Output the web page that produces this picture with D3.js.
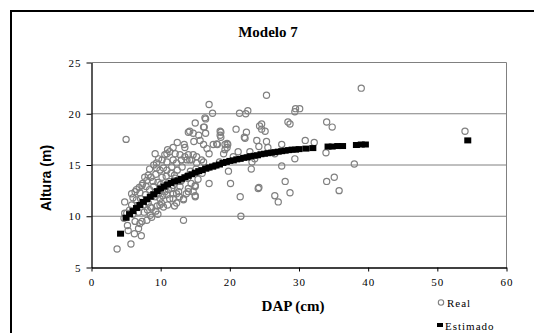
<!DOCTYPE html>
<html>
<head>
<meta charset="utf-8">
<script src="https://cdn.jsdelivr.net/npm/d3@7"></script>
<style>
  body { margin: 0; background: #fff; }
  svg { display: block; }
  .tick text { font-family: "Liberation Serif", "Times New Roman", serif; font-size: 11px; letter-spacing: 1px; fill: #000; }
</style>
</head>
<body>
<svg id="chart" width="534" height="333"></svg>
<script>
// Real (observed) trees
const realDap = [
  3.7, 5.7, 7.2, 6.2, 5.3, 5.2, 4.7, 5.1, 4.8, 5.8, 6.8, 7.3, 8.0, 8.5, 8.7, 6.5, 7.3, 8.0, 8.2, 8.9,
  9.4, 9.2, 10.6, 10.9, 10.4, 9.9, 11.3, 11.8, 9.2, 9.9, 10.1, 10.6, 11.3, 11.6, 7.5, 8.2, 6.3, 6.8, 8.7, 7.0,
  9.9, 10.9, 12.3, 13.3, 15.0, 15.0, 14.0, 17.0, 20.1, 21.5, 21.6, 13.3, 4.8, 8.5, 9.7, 12.8, 11.8, 5.0, 9.7, 10.9,
  11.8, 12.1, 13.5, 14.0, 14.7, 15.0, 16.2, 16.4, 17.0, 17.5, 18.6, 18.6, 21.4, 20.9, 15.7, 16.2, 16.7, 17.6, 18.1, 19.3,
  19.6, 19.6, 19.3, 13.5, 13.8, 14.7, 14.5, 15.2, 15.9, 15.2, 12.3, 11.6, 10.9, 9.4, 7.4, 6.3, 5.8, 13.9, 12.8, 11.8,
  11.1, 12.6, 14.0, 15.0, 14.2, 18.7, 22.6, 22.4, 22.2, 24.3, 18.2, 14.0, 14.2, 16.2, 19.1, 22.7, 23.2, 19.8, 24.1, 12.1,
  13.8, 15.0, 14.7, 12.3, 11.8, 13.3, 25.3, 39.0, 29.5, 30.1, 29.4, 24.6, 24.6, 25.1, 28.4, 28.7, 34.0, 34.8, 23.9, 25.3,
  24.2, 25.5, 27.5, 30.9, 32.2, 33.9, 26.5, 23.6, 27.5, 29.4, 38.0, 24.2, 28.0, 26.5, 27.0, 28.7, 34.0, 35.1, 35.8, 54.0,
  16.5, 16.3, 16.5, 22.1, 22.3, 23.1, 19.7, 22.9, 18.7, 17.0,
  6.0, 6.6, 7.1, 7.8, 8.4, 9.0, 9.6, 10.2, 10.8, 11.5, 12.4, 13.1, 7.6, 8.1, 9.3, 9.6, 10.4, 11.0, 12.0, 12.7,
  13.7, 14.4, 15.4, 16.0, 16.8, 17.8, 18.5, 20.5, 21.2, 6.5, 7.0, 7.9, 8.6, 9.3, 10.0, 10.7, 12.0, 13.0, 14.3, 15.1,
  8.8, 9.5, 10.3, 11.2, 5.5, 6.0, 6.9, 7.7, 8.4, 9.0, 10.2, 11.0, 12.8, 13.0, 14.8, 15.5, 13.4, 12.4
];
const realAltura = [
  6.8, 7.3, 8.1, 8.3, 8.6, 9.1, 9.8, 10.3, 11.4, 11.1, 10.4, 9.5, 9.6, 10.1, 10.8, 12.6, 13.0, 13.5, 14.0, 13.4,
  15.2, 16.1, 16.0, 15.3, 14.7, 14.5, 16.3, 15.5, 11.9, 11.7, 11.3, 12.4, 11.7, 12.7, 11.1, 11.3, 9.5, 8.8, 9.9, 9.3,
  11.1, 12.1, 11.3, 11.6, 11.9, 12.9, 12.4, 13.2, 13.2, 11.9, 10.0, 9.6, 10.3, 10.9, 12.2, 12.9, 12.2, 17.5, 15.6, 16.1,
  16.7, 16.1, 16.7, 18.2, 18.1, 19.1, 18.7, 19.6, 20.9, 20.05, 18.3, 17.9, 20.05, 18.5, 17.4, 17.0, 16.6, 17.0, 17.05, 17.0,
  17.1, 16.7, 16.5, 15.8, 15.5, 16.0, 15.5, 15.8, 15.5, 15.2, 15.2, 14.8, 14.5, 14.7, 13.2, 12.4, 12.2, 13.7, 13.4, 13.0,
  12.6, 12.4, 12.7, 12.0, 18.3, 18.2, 20.3, 18.2, 17.6, 18.8, 17.0, 16.0, 15.5, 15.3, 16.1, 15.8, 15.3, 14.4, 12.7, 13.7,
  13.9, 13.0, 12.4, 12.2, 11.7, 11.7, 21.8, 22.5, 20.5, 20.5, 20.2, 19.0, 18.5, 18.3, 19.2, 19.0, 19.2, 18.7, 17.4, 17.3,
  16.8, 16.7, 17.0, 17.4, 17.2, 16.2, 16.1, 15.6, 14.9, 15.6, 15.1, 12.8, 13.4, 12.0, 11.4, 12.3, 13.4, 13.8, 12.5, 18.3,
  18.1, 18.7, 19.5, 17.7, 20.0, 14.6, 17.0, 16.3, 17.7, 16.1,
  10.2, 10.9, 11.7, 12.1, 12.6, 12.9, 13.3, 13.8, 13.9, 14.2, 14.5, 14.8, 10.4, 10.6, 10.5, 10.2, 10.9, 11.1, 11.0, 11.9,
  12.2, 13.2, 13.6, 14.2, 14.7, 14.9, 15.3, 15.8, 16.3, 11.6, 12.3, 12.9, 13.8, 14.1, 13.1, 12.9, 14.0, 13.5, 14.4, 14.6,
  12.0, 11.0, 12.0, 13.4, 10.6, 11.8, 12.8, 13.8, 14.6, 15.0, 15.5, 16.5, 16.0, 15.5, 17.3, 17.9, 17.0, 17.2
];

// Estimated heights (model 7)
const estDap = [
  4.2, 5.0, 5.5, 6.0, 6.5, 7.0, 7.5, 8.0, 8.5, 9.0, 9.5, 10.0, 10.5, 11.0, 11.5, 12.0, 12.5, 13.0, 13.5, 14.0,
  14.5, 15.0, 15.5, 16.0, 16.5, 17.0, 17.5, 18.0, 18.5, 19.0, 19.5, 20.0, 20.5, 21.0, 21.5, 22.0, 22.5, 23.0, 23.5, 24.0,
  24.5, 25.0, 25.5, 26.0, 26.5, 27.0, 27.5, 28.0, 28.5, 29.0, 29.5, 30.0, 31.0, 32.0, 34.2, 34.8, 35.6, 36.3, 38.3, 39.0,
  39.6, 54.4
];
const estAltura = [
  8.3, 9.85, 10.2, 10.5, 10.8, 11.1, 11.4, 11.65, 11.9, 12.15, 12.45, 12.7, 12.9, 13.1, 13.25, 13.4, 13.5, 13.65, 13.8, 13.95,
  14.1, 14.25, 14.4, 14.5, 14.65, 14.75, 14.85, 14.95, 15.05, 15.2, 15.3, 15.4, 15.45, 15.55, 15.6, 15.7, 15.75, 15.85, 15.9, 15.95,
  16.05, 16.1, 16.15, 16.2, 16.25, 16.3, 16.35, 16.4, 16.45, 16.5, 16.5, 16.55, 16.6, 16.65, 16.8, 16.8, 16.85, 16.85, 16.95, 17.0,
  17.0, 17.4
];

const xTicks = [0, 10, 20, 30, 40, 50, 60];
const yTicks = [5, 10, 15, 20, 25];

const svg = d3.select('#chart');

// outer chart border
svg.append('rect')
  .attr('x', 11).attr('y', 11)
  .attr('width', 540).attr('height', 340)
  .attr('fill', '#fff')
  .attr('stroke', '#000')
  .attr('stroke-width', 2);

const x = d3.scaleLinear().domain([0, 60]).range([91.5, 506.5]);
const y = d3.scaleLinear().domain([5, 25]).range([267.5, 62.5]);

// gridlines
svg.append('g')
  .selectAll('line')
  .data(yTicks.filter(t => t > 5))
  .enter()
  .append('line')
  .attr('x1', x(0)).attr('x2', x(60))
  .attr('y1', d => y(d)).attr('y2', d => y(d))
  .attr('stroke', '#808080')
  .attr('stroke-width', 1);

// right border of plot area
svg.append('line')
  .attr('x1', x(60)).attr('x2', x(60))
  .attr('y1', y(25)).attr('y2', y(5))
  .attr('stroke', '#808080');

// axes
const xAxis = svg.append('g')
  .attr('transform', `translate(0,${y(5)})`)
  .call(d3.axisBottom(x).tickValues(xTicks).tickSize(4).tickPadding(7).tickSizeOuter(0));
const yAxis = svg.append('g')
  .attr('transform', `translate(${x(0)},0)`)
  .call(d3.axisLeft(y).tickValues(yTicks).tickSize(5).tickPadding(5).tickSizeOuter(0));
[xAxis, yAxis].forEach(a => {
  a.select('.domain').attr('stroke', '#000').attr('stroke-width', 1.3);
  a.selectAll('.tick line').attr('stroke', '#000');
});

// real points
svg.append('g')
  .selectAll('circle')
  .data(realDap.map((d, i) => [d, realAltura[i]]))
  .enter()
  .append('circle')
  .attr('cx', d => x(d[0]))
  .attr('cy', d => y(d[1]))
  .attr('r', 3.1)
  .attr('fill', 'none')
  .attr('stroke', '#808080')
  .attr('stroke-width', 1.2);

// estimated points
svg.append('g')
  .selectAll('rect')
  .data(estDap.map((d, i) => [d, estAltura[i]]))
  .enter()
  .append('rect')
  .attr('x', d => x(d[0]) - 3.5)
  .attr('y', d => y(d[1]) - 3)
  .attr('width', 7)
  .attr('height', 6)
  .attr('fill', '#000');

// titles
svg.append('text')
  .attr('x', 268).attr('y', 37)
  .attr('text-anchor', 'middle')
  .style('font-family', '"Liberation Serif", "Times New Roman", serif')
  .style('font-weight', 'bold')
  .style('font-size', '15px')
  .text('Modelo 7');

svg.append('text')
  .attr('x', 293).attr('y', 311)
  .attr('text-anchor', 'middle')
  .style('font-family', '"Liberation Serif", "Times New Roman", serif')
  .style('font-weight', 'bold')
  .style('font-size', '15px')
  .text('DAP (cm)');

svg.append('text')
  .attr('transform', 'translate(51,178) rotate(-90)')
  .attr('text-anchor', 'middle')
  .style('font-family', '"Liberation Sans", Arial, sans-serif')
  .style('font-weight', 'bold')
  .style('font-size', '14px')
  .text('Altura (m)');

// legend
const legend = svg.append('g')
  .style('font-family', '"Liberation Serif", "Times New Roman", serif')
  .style('font-size', '11px')
  .style('letter-spacing', '1px');
legend.append('circle')
  .attr('cx', 441).attr('cy', 302.5).attr('r', 2.7)
  .attr('fill', 'none').attr('stroke', '#808080').attr('stroke-width', 1.1);
legend.append('text').attr('x', 447).attr('y', 306.5).text('Real');
legend.append('rect')
  .attr('x', 437).attr('y', 323).attr('width', 6).attr('height', 4)
  .attr('fill', '#000');
legend.append('text').attr('x', 445).attr('y', 329.5).text('Estimado');
</script>
</body>
</html>
